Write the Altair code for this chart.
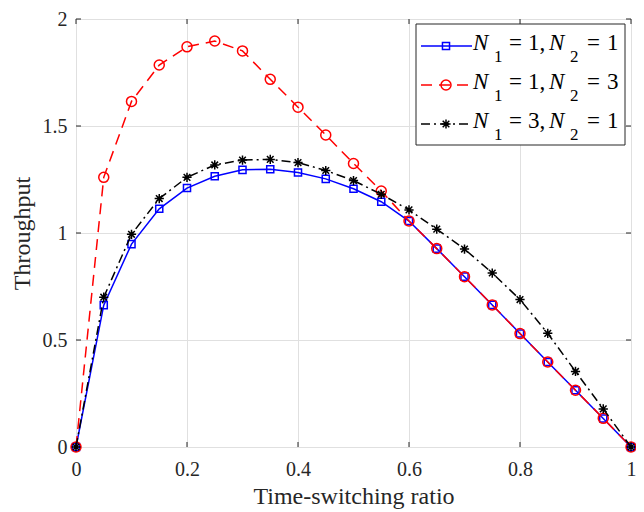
import altair as alt
import pandas as pd

# ---------------- data ----------------
ratio = [0.0, 0.05, 0.10, 0.15, 0.20, 0.25, 0.30, 0.35, 0.40, 0.45, 0.50,
         0.55, 0.60, 0.65, 0.70, 0.75, 0.80, 0.85, 0.90, 0.95, 1.0]
tp_n1_1_n2_1 = [0.0, 0.663, 0.948, 1.113, 1.210, 1.265, 1.295, 1.298, 1.283, 1.253, 1.207,
                1.146, 1.056, 0.927, 0.796, 0.664, 0.530, 0.397, 0.265, 0.133, 0.0]
tp_n1_1_n2_3 = [0.0, 1.260, 1.615, 1.785, 1.870, 1.897, 1.851, 1.718, 1.588, 1.458, 1.325,
                1.196, 1.056, 0.927, 0.796, 0.664, 0.530, 0.397, 0.265, 0.134, 0.0]
tp_n1_3_n2_1 = [0.0, 0.700, 0.994, 1.161, 1.260, 1.318, 1.341, 1.344, 1.329, 1.292, 1.245,
                1.181, 1.108, 1.018, 0.925, 0.813, 0.689, 0.531, 0.353, 0.178, 0.0]
legend_n1 = ["1", "1", "3"]
legend_n2 = ["1", "3", "1"]
x_ticks = [0, 0.2, 0.4, 0.6, 0.8, 1.0]
y_ticks = [0, 0.5, 1.0, 1.5, 2.0]

# ---------------- styling ----------------
W, H = 555, 428
FONT = "Liberation Serif"
INK = "#262626"
GRID = "#e0e0e0"
ASTERISK = "M-1,0L1,0M0,-1L0,1M-0.72,-0.72L0.72,0.72M-0.72,0.72L0.72,-0.72"

styles = [
    dict(vals=tp_n1_1_n2_1, color="#0000ff", dash=None, shape="square", size=50),
    dict(vals=tp_n1_1_n2_3, color="#ff0000", dash=[11, 7], shape="circle", size=100),
    dict(vals=tp_n1_3_n2_1, color="#000000", dash=[9, 4, 2, 4], shape=ASTERISK, size=85),
]

xs = alt.Scale(domain=[0, 1], nice=False, zero=False)
ys = alt.Scale(domain=[0, 2], nice=False, zero=False)

xax = alt.Axis(values=x_ticks, format=".1~f", ticks=False, domain=False, grid=True,
               gridColor=GRID, gridWidth=1, labelFont=FONT, labelFontSize=20,
               labelColor=INK, labelPadding=12, labelFlush=False,
               title="Time-switching ratio", titleFont=FONT, titleFontSize=24,
               titleFontWeight="normal", titleColor=INK, titleY=56,
               titleBaseline="alphabetic")
yax = alt.Axis(values=y_ticks, format=".1~f", ticks=False, domain=False, grid=True,
               gridColor=GRID, gridWidth=1, labelFont=FONT, labelFontSize=20,
               labelColor=INK, labelPadding=9, labelFlush=False,
               title="Throughput", titleFont=FONT, titleFontSize=24,
               titleFontWeight="normal", titleColor=INK, titleX=-47, titleY=H / 2,
               titleAngle=270, titleAlign="center", titleBaseline="alphabetic")

layers = []

# inner ticks on all four sides
xt = pd.DataFrame({"x": x_ticks})
yt = pd.DataFrame({"y": y_ticks})
for (a, b) in [(H, H - 5), (0, 5)]:
    layers.append(alt.Chart(xt).mark_rule(color=INK, strokeWidth=1).encode(
        x=alt.X("x:Q", scale=xs, axis=xax), y=alt.value(a), y2=alt.value(b)))
for (a, b) in [(0, 5), (W, W - 5)]:
    layers.append(alt.Chart(yt).mark_rule(color=INK, strokeWidth=1).encode(
        y=alt.Y("y:Q", scale=ys, axis=yax), x=alt.value(a), x2=alt.value(b)))

# series
for st in styles:
    d = pd.DataFrame({"x": ratio, "y": st["vals"]})
    line_kw = dict(color=st["color"], strokeWidth=1.5)
    if st["dash"]:
        line_kw["strokeDash"] = st["dash"]
    layers.append(alt.Chart(d).mark_line(**line_kw).encode(
        x=alt.X("x:Q", scale=xs, axis=xax), y=alt.Y("y:Q", scale=ys, axis=yax)))
    layers.append(alt.Chart(d).mark_point(shape=st["shape"], size=st["size"], filled=False,
                                          color=st["color"], strokeWidth=1.5, opacity=1).encode(
        x=alt.X("x:Q", scale=xs, axis=xax), y=alt.Y("y:Q", scale=ys, axis=yax)))

# legend (manual, MATLAB-like)
one = pd.DataFrame({"k": [0]})
layers.append(alt.Chart(one).mark_rect(fill="white", stroke=INK, strokeWidth=1).encode(
    x=alt.value(340), x2=alt.value(549), y=alt.value(5), y2=alt.value(126)))
row_y = [27, 66, 105]
for i, st in enumerate(styles):
    yc = row_y[i]
    lk = dict(color=st["color"], strokeWidth=1.5)
    if st["dash"]:
        lk["strokeDash"] = st["dash"]
    layers.append(alt.Chart(one).mark_rule(**lk).encode(
        x=alt.value(345), x2=alt.value(396), y=alt.value(yc)))
    layers.append(alt.Chart(one).mark_point(shape=st["shape"], size=st["size"], filled=False,
                                            color=st["color"], strokeWidth=1.5, opacity=1).encode(
        x=alt.value(370), y=alt.value(yc)))
    pieces = [
        ("N", "it", 397), ("1", "sub", 418), ("=", "rm", 433),
        (legend_n1[i] + ",", "rm", 452), ("N", "it", 473), ("2", "sub", 494),
        ("=", "rm", 511), (legend_n2[i], "rm", 531),
    ]
    for txt, kind, px in pieces:
        if kind == "sub":
            mk = alt.Chart(one).mark_text(text=txt, align="left", baseline="alphabetic",
                                          font=FONT, fontSize=17, color="black")
            py = yc + 16
        elif kind == "it":
            mk = alt.Chart(one).mark_text(text=txt, align="left", baseline="alphabetic",
                                          font=FONT, fontSize=23, fontStyle="italic",
                                          color="black")
            py = yc + 4
        else:
            mk = alt.Chart(one).mark_text(text=txt, align="left", baseline="alphabetic",
                                          font=FONT, fontSize=23, color="black")
            py = yc + 4
        layers.append(mk.encode(x=alt.value(px), y=alt.value(py)))

chart = alt.layer(*layers).properties(
    width=W, height=H,
    padding={"left": 68, "top": 11, "right": 5, "bottom": 65},
    autosize=alt.AutoSizeParams(type="none"),
).configure_view(stroke=INK, strokeWidth=1).configure(background="white")

chart.save("out.html", embed_options={"renderer": "svg", "actions": False})
